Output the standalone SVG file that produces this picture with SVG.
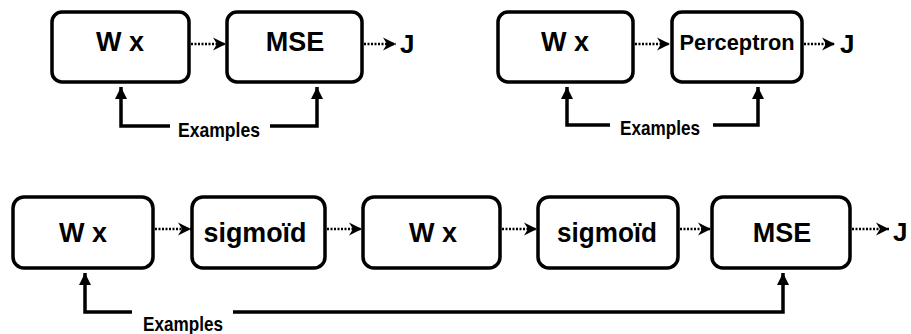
<svg xmlns="http://www.w3.org/2000/svg" width="911" height="334" viewBox="0 0 911 334">
<style>
.box{fill:#fff;stroke:#000;stroke-width:3.5}
.lbl{font-family:"Liberation Sans",Arial,sans-serif;font-weight:bold;font-size:27px;text-anchor:middle;fill:#000}
.pl{font-size:22px}
.j{font-family:"Liberation Sans",Arial,sans-serif;font-weight:bold;font-size:26px;fill:#000}
.ex{font-family:"Liberation Sans",Arial,sans-serif;font-weight:bold;font-size:21px;fill:#000}
.flow{fill:none;stroke:#000;stroke-width:2.5;stroke-dasharray:2 1.5;marker-end:url(#ah)}
.feed{fill:none;stroke:#000;stroke-width:3.5;marker-end:url(#up)}
</style>
<defs>
<marker id="ah" markerUnits="userSpaceOnUse" markerWidth="14" markerHeight="14" refX="13" refY="7" orient="auto">
<path d="M0,0.5 L13,7 L0,13.5 L4,7 z" fill="#000"/>
</marker>
<marker id="up" markerUnits="userSpaceOnUse" markerWidth="13" markerHeight="13" refX="12" refY="6.5" orient="auto">
<path d="M0,0.5 L12,6.5 L0,12.5 z" fill="#000"/>
</marker>
</defs>

<g id="tl-wx"><rect class="box" x="52" y="12" width="137" height="70" rx="10"/><text class="lbl" x="120" y="51">W x</text></g>
<g id="tl-mse"><rect class="box" x="227" y="12" width="135" height="70" rx="10"/><text class="lbl" x="295" y="51">MSE</text></g>
<g id="tl-j"><text class="j" x="400" y="53">J</text></g>
<g id="tl-ex"><text class="ex" x="178" y="137" textLength="82" lengthAdjust="spacingAndGlyphs">Examples</text></g>

<g id="tr-wx"><rect class="box" x="498" y="12" width="135" height="70" rx="10"/><text class="lbl" x="565" y="51">W x</text></g>
<g id="tr-perc"><rect class="box" x="672" y="12" width="130" height="70" rx="10"/><text class="lbl pl" x="737" y="50" textLength="115" lengthAdjust="spacingAndGlyphs">Perceptron</text></g>
<g id="tr-j"><text class="j" x="840" y="53">J</text></g>
<g id="tr-ex"><text class="ex" x="620" y="135" textLength="80" lengthAdjust="spacingAndGlyphs">Examples</text></g>

<g id="b-wx1"><rect class="box" x="13" y="197" width="140" height="71" rx="11"/><text class="lbl" x="83" y="242">W x</text></g>
<g id="b-sig1"><rect class="box" x="192" y="197" width="133" height="71" rx="11"/><text class="lbl" x="255" y="242" textLength="103" lengthAdjust="spacingAndGlyphs">sigmoïd</text></g>
<g id="b-wx2"><rect class="box" x="363" y="197" width="137" height="71" rx="11"/><text class="lbl" x="433" y="242">W x</text></g>
<g id="b-sig2"><rect class="box" x="538" y="197" width="140" height="71" rx="11"/><text class="lbl" x="607" y="242" textLength="100" lengthAdjust="spacingAndGlyphs">sigmoïd</text></g>
<g id="b-mse"><rect class="box" x="712" y="197" width="138" height="71" rx="11"/><text class="lbl" x="782" y="242">MSE</text></g>
<g id="b-j"><text class="j" x="893" y="241">J</text></g>
<g id="b-ex"><text class="ex" x="143" y="331" textLength="80" lengthAdjust="spacingAndGlyphs">Examples</text></g>

<g id="connectors">
<path class="flow" d="M191,44 H226"/>
<path class="flow" d="M364,44 H396"/>
<path class="flow" d="M635,44 H670"/>
<path class="flow" d="M804,44 H835"/>
<path class="flow" d="M155,229 H191"/>
<path class="flow" d="M327,229 H362"/>
<path class="flow" d="M502,229 H537"/>
<path class="flow" d="M680,229 H711"/>
<path class="flow" d="M852,229 H889"/>
<path class="feed" d="M170,126 H121 V87"/>
<path class="feed" d="M270,126 H317 V87"/>
<path class="feed" d="M610,125 H567 V87"/>
<path class="feed" d="M713,125 H758 V87"/>
<path class="feed" d="M132,312 H85 V273"/>
<path class="feed" d="M233,312 H783 V273"/>
</g>
</svg>
